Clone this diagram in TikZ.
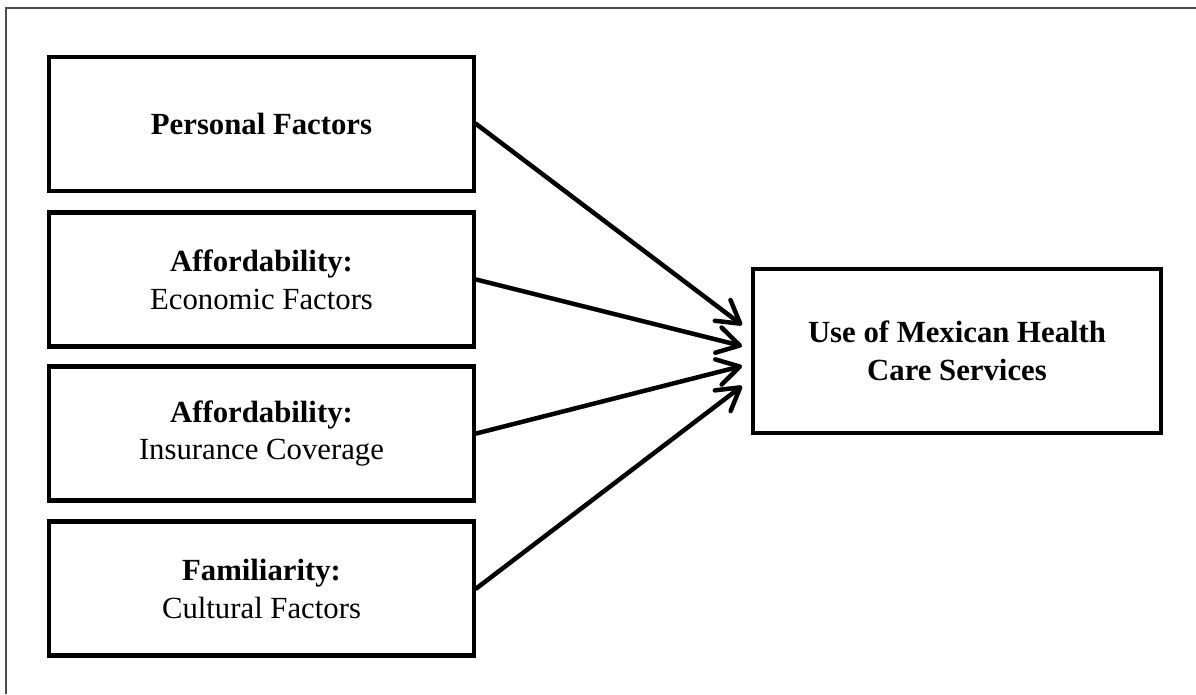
\documentclass[tikz,border=0pt]{standalone}
\usepackage{fontspec}
\setmainfont{Liberation Serif}
\usetikzlibrary{arrows.meta}

\begin{document}
\begin{tikzpicture}[x=0.02cm, y=-0.02cm]
    % Define styles
    \tikzset{
        factor/.style={rectangle, draw, line width=0.09cm, align=center, minimum width=8.5cm, minimum height=2.68cm, inner sep=0pt, font=\fontsize{17.5}{21.6}\selectfont},
        outcome/.style={factor, minimum width=8.16cm, minimum height=3.28cm},
        arrow/.style={-{Straight Barb[length=0.44cm, width=0.52cm, round]}, line width=0.09cm, line cap=round, line join=round}
    }

    % Frame
    \useasboundingbox (0,0) rectangle (1196,694);
    \draw[line width=0.6pt, black!70] (1196,8) -- (6,8) -- (6,694);

    % Nodes
    \node[factor] (personal) at (261.5,124) {\textbf{Personal Factors}};
    \node[factor] (economic) at (261.5,279.5) {\textbf{Affordability:}\\Economic Factors};
    \node[factor] (insurance) at (261.5,433.5) {\textbf{Affordability:}\\Insurance Coverage};
    \node[factor] (cultural) at (261.5,588.5) {\textbf{Familiarity:}\\Cultural Factors};
    \node[outcome] (use) at (957,351) {\textbf{Use of Mexican Health}\\\textbf{Care Services}};

    % Arrow ends
    \coordinate (tip1) at (742,325);
    \coordinate (tip2) at (742,346);
    \coordinate (tip3) at (742,366);
    \coordinate (tip4) at (742,386);

    % Arrows
    \draw[arrow] (personal.east) -- (tip1);
    \draw[arrow] (economic.east) -- (tip2);
    \draw[arrow] (insurance.east) -- (tip3);
    \draw[arrow] (cultural.east) -- (tip4);
\end{tikzpicture}
\end{document}
